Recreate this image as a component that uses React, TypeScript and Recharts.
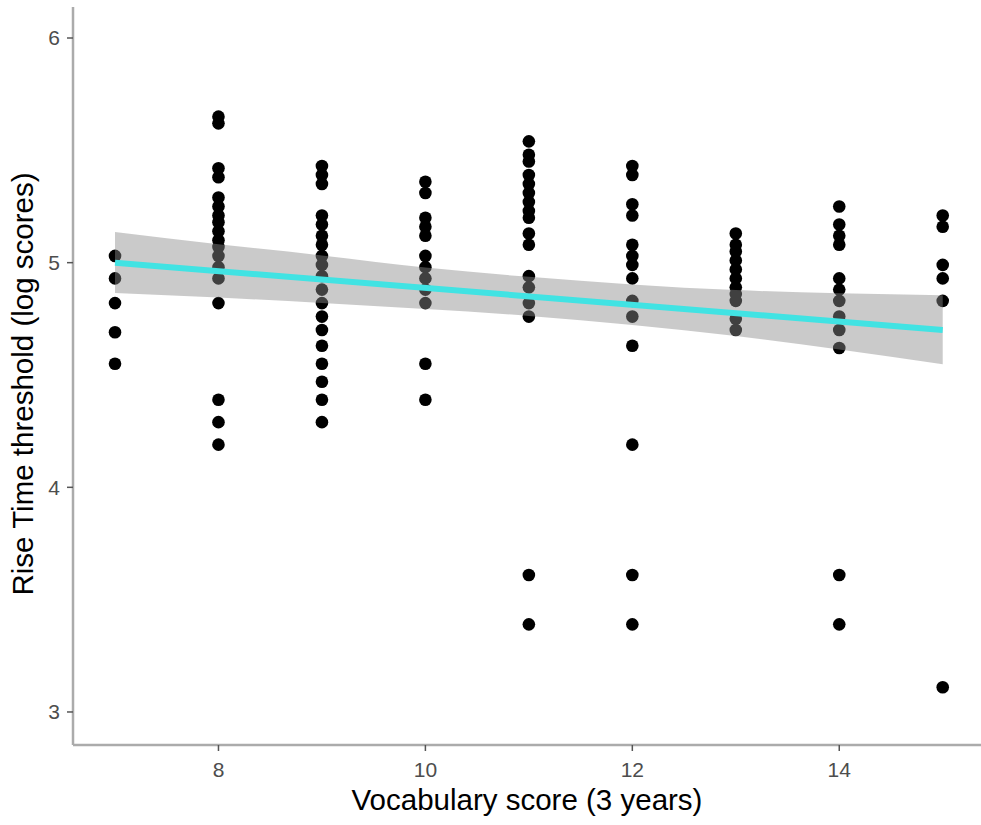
import { ComposedChart, Scatter, Area, Line, XAxis, YAxis } from 'recharts';

// vocabulary scores on the x axis
const scores = [7, 8, 9, 10, 11, 12, 13, 14, 15];

// rise time thresholds (log) per vocabulary score
const thresholds7 = [5.03, 4.93, 4.82, 4.69, 4.55];
const thresholds8 = [5.65, 5.62, 5.42, 5.38, 5.29, 5.25, 5.21, 5.18, 5.14, 5.1, 5.07, 5.03, 4.98, 4.93, 4.82, 4.39, 4.29, 4.19];
const thresholds9 = [5.43, 5.39, 5.35, 5.21, 5.17, 5.12, 5.08, 5.03, 4.99, 4.94, 4.88, 4.82, 4.76, 4.7, 4.63, 4.55, 4.47, 4.39, 4.29];
const thresholds10 = [5.36, 5.31, 5.2, 5.16, 5.12, 5.03, 4.98, 4.93, 4.88, 4.82, 4.55, 4.39];
const thresholds11 = [5.54, 5.48, 5.45, 5.39, 5.35, 5.31, 5.27, 5.23, 5.2, 5.13, 5.08, 4.94, 4.89, 4.82, 4.76, 3.61, 3.39];
const thresholds12 = [5.43, 5.39, 5.26, 5.21, 5.08, 5.03, 4.99, 4.93, 4.83, 4.76, 4.63, 4.19, 3.61, 3.39];
const thresholds13 = [5.13, 5.08, 5.05, 5.01, 4.97, 4.93, 4.89, 4.86, 4.83, 4.75, 4.7];
const thresholds14 = [5.25, 5.17, 5.12, 5.08, 4.93, 4.88, 4.83, 4.76, 4.7, 4.62, 3.61, 3.39];
const thresholds15 = [5.21, 5.16, 4.99, 4.93, 4.83, 3.11];

const thresholdsByScore = [
  thresholds7, thresholds8, thresholds9, thresholds10, thresholds11,
  thresholds12, thresholds13, thresholds14, thresholds15,
];

// linear fit and its confidence band
const fitScores = [7, 15];
const fitValues = [5.0, 4.7];
const bandScores = [7, 8, 9, 10, 11, 12, 13, 14, 15];
const bandUpper = [5.137, 5.082, 5.032, 4.978, 4.937, 4.903, 4.878, 4.864, 4.855];
const bandLower = [4.865, 4.845, 4.82, 4.794, 4.763, 4.722, 4.673, 4.613, 4.548];

const xTicks = [8, 10, 12, 14];
const yTicks = [3, 4, 5, 6];

const points = scores.flatMap((s, i) => thresholdsByScore[i].map((y) => ({ x: s, y })));
const fitData = fitScores.map((x, i) => ({ x, y: fitValues[i] }));
const bandData = bandScores.map((x, i) => ({ x, lo: bandLower[i], hi: bandUpper[i] }));

const FONT = '"Liberation Sans", Arial, Helvetica, sans-serif';
const AXIS_GRAY = '#ababab';

const Dot = (props: any) => <circle cx={props.cx} cy={props.cy} r={6.3} fill="#000" />;

const XTitle = (props: any) => {
  const { x, width } = props.viewBox;
  return (
    <text x={x + width / 2} y={810} textAnchor="middle" fontSize={29.5} fill="#000" fontFamily={FONT}>
      Vocabulary score (3 years)
    </text>
  );
};

const YTitle = (props: any) => {
  const { y, height } = props.viewBox;
  const cy = y + height / 2 + 8;
  return (
    <text
      x={33}
      y={cy}
      transform={`rotate(-90, 33, ${cy})`}
      textAnchor="middle"
      fontSize={29.5}
      fill="#000"
      fontFamily={FONT}
    >
      Rise Time threshold (log scores)
    </text>
  );
};

export default function App() {
  return (
    <div style={{ position: 'absolute', left: 0, top: 0, width: 981, height: 825, background: '#fff' }}>
      <ComposedChart width={981} height={825} margin={{ top: 7, right: 0, bottom: 0, left: 0 }}>
        <XAxis
          type="number"
          dataKey="x"
          domain={[6.594, 15.37]}
          ticks={xTicks}
          allowDataOverflow
          height={80}
          tickSize={6}
          tickMargin={11}
          stroke={AXIS_GRAY}
          axisLine={{ stroke: AXIS_GRAY, strokeWidth: 2.5 }}
          tickLine={{ stroke: '#555', strokeWidth: 1.5 }}
          tick={{ fill: '#4d4d4d', fontSize: 21, fontFamily: FONT }}
          label={<XTitle />}
        />
        <YAxis
          type="number"
          dataKey="y"
          domain={[2.853, 6.138]}
          ticks={yTicks}
          allowDataOverflow
          width={73}
          tickSize={6}
          tickMargin={7}
          stroke={AXIS_GRAY}
          axisLine={{ stroke: AXIS_GRAY, strokeWidth: 2.5 }}
          tickLine={{ stroke: '#555', strokeWidth: 1.5 }}
          tick={{ fill: '#4d4d4d', fontSize: 21, fontFamily: FONT }}
          label={<YTitle />}
        />
        <Scatter data={points} shape={<Dot />} isAnimationActive={false} zIndex={50} />
        <Area
          data={bandData}
          dataKey={(d: any) => [d.lo, d.hi]}
          type="natural"
          stroke="none"
          fill="#8b8b8b"
          fillOpacity={0.46}
          isAnimationActive={false}
          zIndex={100}
        />
        <Line
          data={fitData}
          dataKey="y"
          type="linear"
          stroke="#41e3e3"
          strokeWidth={6}
          dot={false}
          activeDot={false}
          isAnimationActive={false}
          zIndex={400}
        />
      </ComposedChart>
    </div>
  );
}
